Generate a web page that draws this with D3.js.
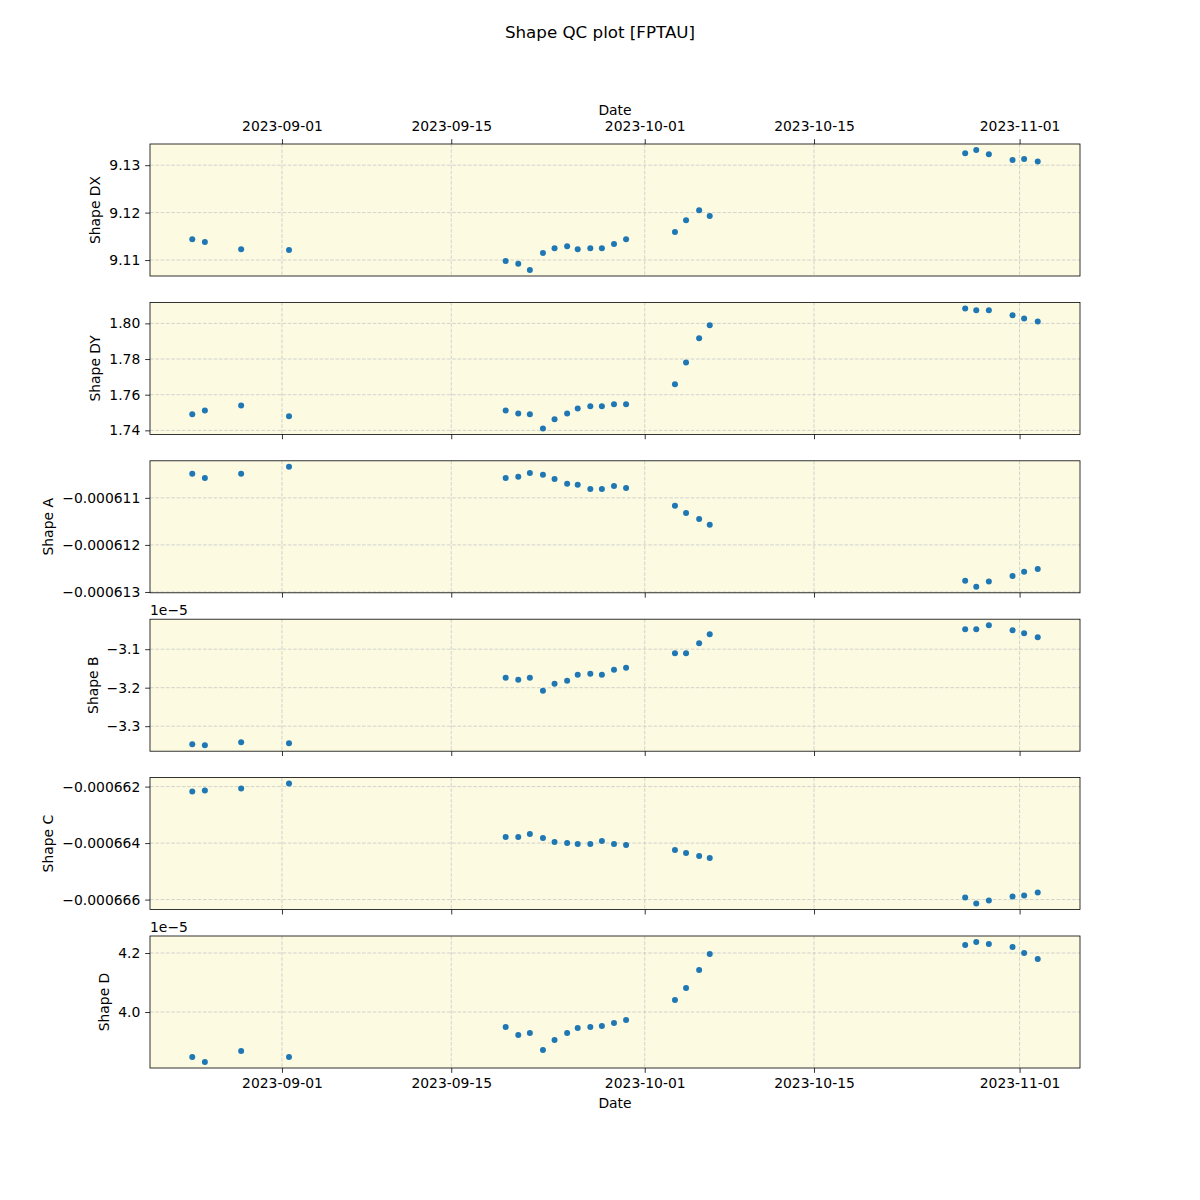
<!DOCTYPE html>
<html>
<head>
<meta charset="utf-8">
<script src="https://cdn.jsdelivr.net/npm/d3@7"></script>
<style>
  html, body { margin: 0; padding: 0; background: #ffffff; }
  svg text { font-family: "DejaVu Sans", sans-serif; fill: #000; }
</style>
</head>
<body>
<svg id="chart" width="1200" height="1200"></svg>
<script>
// ---------------- data ----------------
const dates = [
  "2023-08-24T14:00", "2023-08-25T15:00", "2023-08-28T15:00", "2023-09-01T14:00",
  "2023-09-19T12:00", "2023-09-20T13:00", "2023-09-21T12:00", "2023-09-22T14:00",
  "2023-09-23T13:00", "2023-09-24T14:00", "2023-09-25T11:00", "2023-09-26T12:00",
  "2023-09-27T11:00", "2023-09-28T11:00", "2023-09-29T11:00",
  "2023-10-03T12:00", "2023-10-04T10:00", "2023-10-05T12:00", "2023-10-06T09:00",
  "2023-10-27T12:00", "2023-10-28T10:00", "2023-10-29T11:00", "2023-10-31T10:00",
  "2023-11-01T09:00", "2023-11-02T12:00"
];

const shapeDX = [9.1144, 9.1138, 9.1123, 9.1121, 9.1098, 9.1092, 9.1079, 9.1115, 9.1125,
  9.1129, 9.1123, 9.1125, 9.1125, 9.1134, 9.1144, 9.1159, 9.1184, 9.1205, 9.1193,
  9.1325, 9.1332, 9.1323, 9.1311, 9.1313, 9.1308];

const shapeDY = [1.7490, 1.7512, 1.7540, 1.7479, 1.7512, 1.7495, 1.7490, 1.7411, 1.7462,
  1.7495, 1.7523, 1.7535, 1.7535, 1.7546, 1.7546, 1.7658, 1.7781, 1.7916, 1.7989,
  1.8084, 1.8073, 1.8073, 1.8045, 1.8028, 1.8011];

const shapeA = [-0.00061049, -0.00061058, -0.00061049, -0.00061034, -0.00061058, -0.00061055,
  -0.00061047, -0.00061051, -0.00061060, -0.00061070, -0.00061072, -0.00061081, -0.00061081,
  -0.00061075, -0.00061079, -0.00061117, -0.00061132, -0.00061145, -0.00061157,
  -0.00061276, -0.00061289, -0.00061278, -0.00061266, -0.00061257, -0.00061251];

const shapeB = [-3.3468e-5, -3.3494e-5, -3.3416e-5, -3.3442e-5, -3.1740e-5, -3.1792e-5,
  -3.1740e-5, -3.2078e-5, -3.1896e-5, -3.1818e-5, -3.1662e-5, -3.1636e-5, -3.1662e-5,
  -3.1532e-5, -3.1480e-5, -3.1104e-5, -3.1104e-5, -3.0844e-5, -3.0610e-5,
  -3.0481e-5, -3.0481e-5, -3.0377e-5, -3.0506e-5, -3.0584e-5, -3.0688e-5];

const shapeC = [-0.000662177, -0.000662142, -0.000662071, -0.000661894, -0.000663788,
  -0.000663788, -0.000663681, -0.000663823, -0.000663965, -0.000664000, -0.000664035,
  -0.000664035, -0.000663929, -0.000664035, -0.000664071, -0.000664248, -0.000664354,
  -0.000664460, -0.000664531, -0.000665929, -0.000666142, -0.000666035, -0.000665894,
  -0.000665858, -0.000665752];

const shapeD = [3.8475e-5, 3.8305e-5, 3.8678e-5, 3.8475e-5, 3.9492e-5, 3.9220e-5, 3.9288e-5,
  3.8712e-5, 3.9051e-5, 3.9288e-5, 3.9458e-5, 3.9492e-5, 3.9525e-5, 3.9627e-5, 3.9729e-5,
  4.0407e-5, 4.0814e-5, 4.1424e-5, 4.1966e-5, 4.2271e-5, 4.2373e-5, 4.2305e-5, 4.2203e-5,
  4.2000e-5, 4.1797e-5];

const panelNames = ["Shape DX", "Shape DY", "Shape A", "Shape B", "Shape C", "Shape D"];
const panelValues = [shapeDX, shapeDY, shapeA, shapeB, shapeC, shapeD];
const panelTicks = [
  [9.11, 9.12, 9.13],
  [1.74, 1.76, 1.78, 1.80],
  [-0.000611, -0.000612, -0.000613],
  [-3.1e-5, -3.2e-5, -3.3e-5],
  [-0.000662, -0.000664, -0.000666],
  [4.0e-5, 4.2e-5]
];
const panelTickLabels = [
  ["9.11", "9.12", "9.13"],
  ["1.74", "1.76", "1.78", "1.80"],
  ["\u22120.000611", "\u22120.000612", "\u22120.000613"],
  ["\u22123.1", "\u22123.2", "\u22123.3"],
  ["\u22120.000662", "\u22120.000664", "\u22120.000666"],
  ["4.0", "4.2"]
];
const panelOffsetText = ["", "", "", "1e\u22125", "", "1e\u22125"];

const xTickDates = ["2023-09-01", "2023-09-15", "2023-10-01", "2023-10-15", "2023-11-01"];
const titleText = "Shape QC plot [FPTAU]";
const xLabel = "Date";

// ---------------- layout ----------------
const svg = d3.select("#chart");
const left = 150, right = 1080;
const topY = 144, bottomY = 1068;
const nP = 6;
const panelH = (bottomY - topY) / (nP + (nP - 1) * 0.2);
const gap = panelH * 0.2;
const tickLen = 4.86, tickPad = 4.86;
const fontSize = 13.9;
const bgColor = "#fcfbe2";
const dotColor = "#1f77b4";

const parseUtc = d3.utcParse("%Y-%m-%dT%H:%M");
const parseDay = d3.utcParse("%Y-%m-%d");
const xDates = dates.map(parseUtc);
const xExt = d3.extent(xDates);
const xSpan = xExt[1] - xExt[0];
const x = d3.scaleUtc()
  .domain([new Date(+xExt[0] - 0.05 * xSpan), new Date(+xExt[1] + 0.05 * xSpan)])
  .range([left, right]);
const xTicks = xTickDates.map(parseDay);

// title
svg.append("text")
  .attr("x", 600).attr("y", 38)
  .attr("text-anchor", "middle")
  .style("font-size", "16.7px")
  .text(titleText);

panelNames.forEach((name, i) => {
  const pTop = topY + i * (panelH + gap);
  const pBot = pTop + panelH;
  const vals = panelValues[i];
  const ext = d3.extent(vals);
  const span = ext[1] - ext[0];
  const y = d3.scaleLinear()
    .domain([ext[0] - 0.05 * span, ext[1] + 0.05 * span])
    .range([pBot, pTop]);

  const g = svg.append("g");

  // background
  g.append("rect")
    .attr("x", left).attr("y", pTop)
    .attr("width", right - left).attr("height", panelH)
    .attr("fill", bgColor);

  // grid
  const grid = g.append("g")
    .attr("stroke", "#c8c8c8")
    .attr("stroke-width", 0.8)
    .attr("stroke-dasharray", "3.7,1.6");
  xTicks.forEach(t => {
    grid.append("line")
      .attr("x1", x(t)).attr("x2", x(t))
      .attr("y1", pTop).attr("y2", pBot);
  });
  panelTicks[i].forEach(t => {
    grid.append("line")
      .attr("x1", left).attr("x2", right)
      .attr("y1", y(t)).attr("y2", y(t));
  });

  // points
  g.append("g").selectAll("circle")
    .data(vals)
    .join("circle")
    .attr("cx", (d, j) => x(xDates[j]))
    .attr("cy", d => y(d))
    .attr("r", 3)
    .attr("fill", dotColor);

  // y axis
  const yAxis = d3.axisLeft(y)
    .tickValues(panelTicks[i])
    .tickFormat((d, k) => panelTickLabels[i][k])
    .tickSize(tickLen)
    .tickPadding(tickPad);
  const yG = g.append("g")
    .attr("transform", `translate(${left},0)`)
    .call(yAxis);
  yG.select(".domain").remove();
  yG.selectAll("line").attr("stroke", "#000").attr("stroke-width", 0.8);
  yG.selectAll("text").style("font-size", fontSize + "px").attr("font-family", "DejaVu Sans");

  // measure tick labels
  let maxW = 0;
  yG.selectAll("text").each(function () {
    maxW = Math.max(maxW, this.getComputedTextLength());
  });
  const labelX = left - tickLen - tickPad - maxW - 5.56 - 3.3;
  g.append("text")
    .attr("transform", `translate(${labelX},${(pTop + pBot) / 2}) rotate(-90)`)
    .attr("text-anchor", "middle")
    .style("font-size", fontSize + "px")
    .text(name);

  // x axis
  if (i === 0) {
    const xa = d3.axisTop(x).tickValues(xTicks).tickFormat(d3.utcFormat("%Y-%m-%d"))
      .tickSize(tickLen).tickPadding(tickPad);
    const xg = g.append("g").attr("transform", `translate(0,${pTop})`).call(xa);
    xg.select(".domain").remove();
    xg.selectAll("line").attr("stroke", "#000").attr("stroke-width", 0.8);
    xg.selectAll("text").style("font-size", fontSize + "px").attr("font-family", "DejaVu Sans")
      .attr("dy", "-0.25em");
    g.append("text")
      .attr("x", (left + right) / 2).attr("y", 115)
      .attr("text-anchor", "middle")
      .style("font-size", fontSize + "px")
      .text(xLabel);
  } else {
    const xa = d3.axisBottom(x).tickValues(xTicks)
      .tickFormat(i === nP - 1 ? d3.utcFormat("%Y-%m-%d") : () => "")
      .tickSize(tickLen).tickPadding(tickPad);
    const xg = g.append("g").attr("transform", `translate(0,${pBot})`).call(xa);
    xg.select(".domain").remove();
    xg.selectAll("line").attr("stroke", "#000").attr("stroke-width", 0.8);
    xg.selectAll("text").style("font-size", fontSize + "px").attr("font-family", "DejaVu Sans");
    if (i === nP - 1) {
      g.append("text")
        .attr("x", (left + right) / 2).attr("y", 1108)
        .attr("text-anchor", "middle")
        .style("font-size", fontSize + "px")
        .text(xLabel);
    }
  }

  // frame
  g.append("rect")
    .attr("x", left).attr("y", pTop)
    .attr("width", right - left).attr("height", panelH)
    .attr("fill", "none")
    .attr("stroke", "#000")
    .attr("stroke-width", 0.8);

  // offset text
  if (panelOffsetText[i]) {
    g.append("text")
      .attr("x", left).attr("y", pTop - 4)
      .style("font-size", fontSize + "px")
      .text(panelOffsetText[i]);
  }
});
</script>
</body>
</html>
